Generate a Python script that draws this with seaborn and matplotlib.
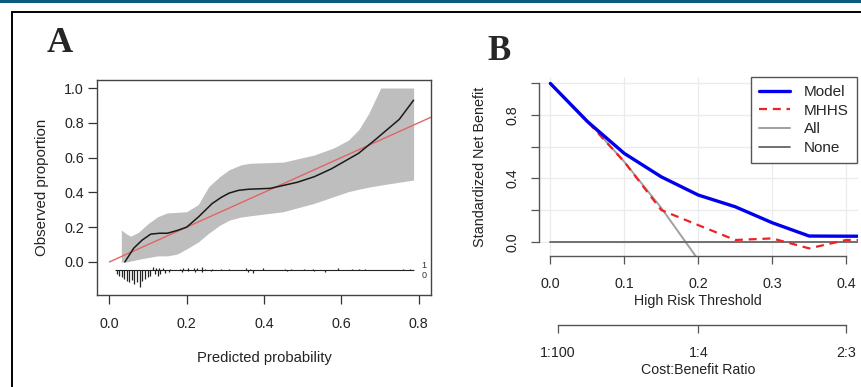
import matplotlib
matplotlib.use("Agg")
import matplotlib.pyplot as plt
import seaborn as sns
import numpy as np
import pandas as pd
from matplotlib.lines import Line2D
from matplotlib.patches import Rectangle

# ---------------- Panel A: calibration ----------------
cal_x = [0.040, 0.063, 0.085, 0.107, 0.130, 0.150, 0.174, 0.200, 0.231, 0.266,
         0.290, 0.310, 0.335, 0.360, 0.416, 0.486, 0.530, 0.574, 0.645, 0.689,
         0.750, 0.787]
cal_y = [0.000, 0.079, 0.126, 0.160, 0.165, 0.165, 0.180, 0.200, 0.260, 0.336,
         0.372, 0.396, 0.412, 0.418, 0.423, 0.458, 0.490, 0.535, 0.625, 0.705,
         0.820, 0.930]

band_x = [0.031, 0.045, 0.055, 0.075, 0.100, 0.125, 0.150, 0.175, 0.200, 0.230,
          0.257, 0.285, 0.310, 0.340, 0.363, 0.450, 0.530, 0.580, 0.618, 0.645,
          0.671, 0.702, 0.787]
band_hi = [0.184, 0.160, 0.148, 0.170, 0.220, 0.260, 0.282, 0.285, 0.289, 0.330,
           0.433, 0.490, 0.530, 0.558, 0.567, 0.574, 0.615, 0.655, 0.700, 0.760,
           0.854, 1.000, 1.000]
band_lo = [0.000, 0.000, 0.005, 0.015, 0.025, 0.035, 0.035, 0.045, 0.075, 0.115,
           0.165, 0.210, 0.240, 0.258, 0.265, 0.289, 0.337, 0.375, 0.404, 0.418,
           0.430, 0.442, 0.471]

ideal = [0.0, 1.0]

# spike histogram (events = 1 above, non-events = 0 below), relative counts
rug0_x = [0.019, 0.026, 0.033, 0.039, 0.046, 0.052, 0.059, 0.065, 0.072, 0.079,
          0.085, 0.092, 0.099, 0.106, 0.118, 0.125, 0.132, 0.144, 0.153, 0.187,
          0.204, 0.222, 0.240, 0.262, 0.358, 0.372, 0.460, 0.530, 0.557]
rug0_n = [4, 5.7, 7.3, 9, 10.7, 12.3, 10, 14, 12.3, 17.3,
          10.7, 9, 7.3, 5.7, 4, 5.7, 4, 3, 2.3, 1.7,
          1.3, 1.7, 2.3, 1.3, 2, 2.7, 1.3, 1.3, 2.3]
rug1_x = [0.112, 0.121, 0.129, 0.138, 0.156, 0.182, 0.191, 0.204, 0.218, 0.226,
          0.240, 0.248, 0.266, 0.288, 0.310, 0.354, 0.365, 0.398, 0.455, 0.469,
          0.504, 0.526, 0.592, 0.627, 0.645, 0.662, 0.759, 0.777]
rug1_n = [2.7, 1.7, 2, 1.7, 1.3, 1.3, 1.7, 2, 1.7, 2,
          3.3, 1.3, 1.3, 1.3, 1.3, 2, 1.3, 1.7, 1.3, 1.3,
          1.3, 1.3, 1.7, 1.3, 1.3, 1.3, 1.3, 1.3]

# ---------------- Panel B: decision curve ----------------
thr = [0.0, 0.05, 0.10, 0.15, 0.20, 0.25, 0.30, 0.35, 0.40, 0.42]
nb_model = [1.0, 0.76, 0.558, 0.41, 0.295, 0.221, 0.12, 0.036, 0.035, 0.035]
nb_mhhs = [1.0, 0.76, 0.505, 0.20, 0.105, 0.011, 0.021, -0.042, 0.011, 0.011]
thr_all = [0.0, 0.05, 0.10, 0.15, 0.20]
nb_all = [1.0, 0.766, 0.505, 0.214, -0.114]
thr_none = [0.0, 0.42]
nb_none = [0.0, 0.0]

cost_thr = [0.0099, 0.2, 0.4]
cost_labels = ["1:100", "1:4", "2:3"]

sns.set_theme(style="white")
plt.rcParams['font.family'] = ['Liberation Sans', 'DejaVu Sans']
plt.rcParams['axes.unicode_minus'] = False

W, H = 861, 387
fig = plt.figure(figsize=(W / 100, H / 100), dpi=100)

# page decorations
fig.add_artist(Rectangle((0, 1 - 2.5 / H), 1, 2.5 / H, transform=fig.transFigure,
                         color='#0b5a82', lw=0))
fig.add_artist(Line2D([11.5 / W, 1], [1 - 11.5 / H] * 2, transform=fig.transFigure,
                      color='black', lw=1.4))
fig.add_artist(Line2D([11.5 / W] * 2, [0, 1 - 11.5 / H], transform=fig.transFigure,
                      color='black', lw=1.4))

# ----- Panel A -----
axA = fig.add_axes([97 / W, 1 - 295 / H, (431 - 97) / W, (295 - 80) / H])
axA.set_xlim(-0.032, 0.832)
axA.set_ylim(-0.19, 1.046)
axA.fill_between(band_x, band_lo, band_hi, color='#bebebe', lw=0, zorder=1)
sns.lineplot(x=ideal, y=ideal, ax=axA, color='#e06666', lw=1.0, zorder=2,
             estimator=None, sort=False)
sns.lineplot(x=cal_x, y=cal_y, ax=axA, color='#1a1a1a', lw=1.1, zorder=3,
             estimator=None, sort=False)

base = -0.046
unit = 1 / 174
axA.hlines(base, min(rug0_x + rug1_x) - 0.004, max(rug0_x + rug1_x) + 0.012,
           color='#222222', lw=0.8)
axA.vlines(rug0_x, base, base - np.array(rug0_n) * unit, color='#222222', lw=0.9)
axA.vlines(rug1_x, base, base + np.array(rug1_n) * unit, color='#222222', lw=0.9)
axA.text(0.808, base + 0.025, "1", fontsize=6.5, ha='left', va='center', color='#333')
axA.text(0.808, base - 0.03, "0", fontsize=6.5, ha='left', va='center', color='#333')

axA.set_xticks([0.0, 0.2, 0.4, 0.6, 0.8])
axA.set_xticklabels(["0.0", "0.2", "0.4", "0.6", "0.8"])
axA.set_yticks([0.0, 0.2, 0.4, 0.6, 0.8, 1.0])
axA.set_yticklabels(["0.0", "0.2", "0.4", "0.6", "0.8", "1.0"])
axA.tick_params(axis='both', direction='out', length=6.5, width=0.9, color='#333',
                labelsize=10.3, labelcolor='#222', bottom=True, left=True,
                top=False, right=False)
axA.tick_params(axis='x', pad=9)
axA.tick_params(axis='y', pad=3)
for s in axA.spines.values():
    s.set_visible(True)
    s.set_color('#444444')
    s.set_linewidth(1.0)
axA.set_xlabel("Predicted probability", fontsize=10.6, color='#222', labelpad=15)
axA.set_ylabel("Observed proportion", fontsize=10.8, color='#222', labelpad=11)

fig.text(59.5 / W, 1 - 51.7 / H, "A", fontfamily='Liberation Serif', fontweight='bold',
         fontsize=26, ha='center', va='baseline')

# ----- Panel B -----
axB = fig.add_axes([538.5 / W, 1 - 256.3 / H, (858 - 538.5) / W, (256.3 - 76.8) / H])
axB.set_xlim(-0.016, 0.416)
axB.set_ylim(-0.092, 1.042)
axB.grid(True, color='#ebebeb', lw=0.9)
axB.set_axisbelow(True)

sns.lineplot(x=thr_all, y=nb_all, ax=axB, color='#a0a0a0', lw=1.4, label='All',
             estimator=None, sort=False, zorder=2)
sns.lineplot(x=thr_none, y=nb_none, ax=axB, color='#666666', lw=1.3, label='None',
             estimator=None, sort=False, zorder=2)
sns.lineplot(x=thr, y=nb_mhhs, ax=axB, color='#ee2222', lw=1.6, label='MHHS',
             linestyle=(0, (3.6, 2.6)), estimator=None, sort=False, zorder=3)
sns.lineplot(x=thr, y=nb_model, ax=axB, color='#0000ee', lw=2.4, label='Model',
             estimator=None, sort=False, zorder=4)

handles, labels = axB.get_legend_handles_labels()
order = [labels.index(n) for n in ['Model', 'MHHS', 'All', 'None']]
leg = axB.legend([handles[i] for i in order], [labels[i] for i in order],
                 loc='upper right', bbox_to_anchor=(0.997, 1.0), borderaxespad=0,
                 frameon=True, fancybox=False, fontsize=11, handlelength=2.0,
                 handletextpad=0.9, labelspacing=0.3, borderpad=0.55)
leg.get_frame().set_edgecolor('#555555')
leg.get_frame().set_linewidth(1.0)
leg.get_frame().set_alpha(1)

axB.set_xticks([0.0, 0.1, 0.2, 0.3, 0.4])
axB.set_xticklabels(["0.0", "0.1", "0.2", "0.3", "0.4"])
axB.set_yticks([0.0, 0.2, 0.4, 0.6, 0.8, 1.0])
axB.set_yticklabels(["0.0", "", "0.4", "", "0.8", ""], rotation=90, va='center')
axB.tick_params(axis='both', direction='out', length=6, width=0.9, color='#555',
                labelsize=10.3, labelcolor='#222', bottom=True, left=True,
                top=False, right=False)
axB.tick_params(axis='x', pad=9)
axB.tick_params(axis='y', pad=8)
axB.spines['top'].set_visible(False)
axB.spines['right'].set_visible(False)
for k in ['left', 'bottom']:
    axB.spines[k].set_visible(True)
    axB.spines[k].set_color('#555555')
    axB.spines[k].set_linewidth(1.0)
axB.spines['left'].set_bounds(0.0, 1.0)
axB.spines['bottom'].set_bounds(0.0, 0.4)
axB.set_xlabel("High Risk Threshold", fontsize=10.2, color='#222', labelpad=2)
axB.set_ylabel("Standardized Net Benefit", fontsize=10.4, color='#222', labelpad=13)

sec = axB.secondary_xaxis((256.3 - 325) / (256.3 - 76.8))
sec.set_xticks(cost_thr)
sec.set_xticklabels(cost_labels)
sec.spines['bottom'].set_bounds(cost_thr[0], cost_thr[-1])
sec.spines['bottom'].set_color('#555555')
sec.spines['bottom'].set_linewidth(1.0)
sec.tick_params(axis='x', direction='out', length=6, width=0.9, color='#555',
                labelsize=10.3, labelcolor='#222', pad=9, bottom=True)
sec.set_xlabel("Cost:Benefit Ratio", fontsize=10.2, color='#222', labelpad=2)

fig.text(499 / W, 1 - 60 / H, "B", fontfamily='Liberation Serif', fontweight='bold',
         fontsize=25, ha='center', va='baseline')

fig.savefig("out.png", dpi=100)
